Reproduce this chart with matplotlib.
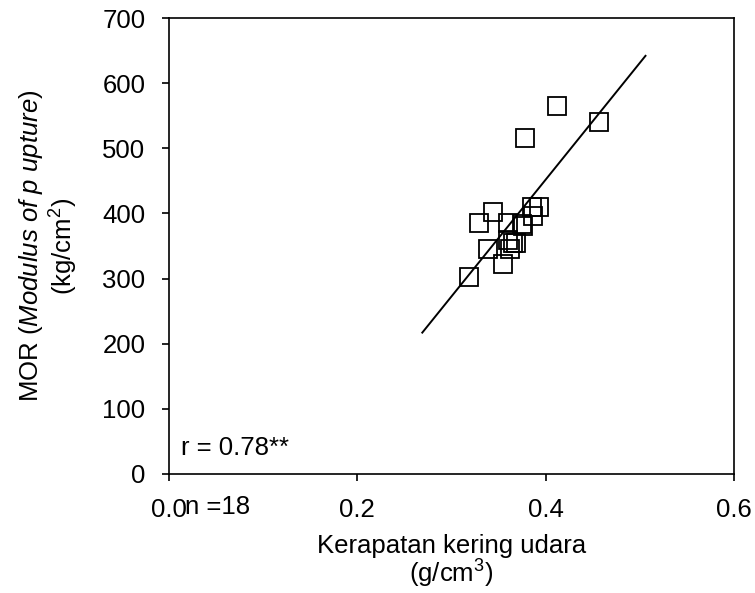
import numpy as np
import matplotlib
matplotlib.use('Agg')
import matplotlib.pyplot as plt

# density (g/cm3) and MOR (kg/cm2)
density = [0.412, 0.378, 0.457, 0.344, 0.329, 0.360, 0.339, 0.319, 0.355,
           0.385, 0.393, 0.387, 0.376, 0.360, 0.365, 0.368, 0.362, 0.375]
mor = [565, 516, 541, 402, 386, 386, 345, 303, 322,
       410, 410, 396, 381, 359, 354, 355, 346, 384]

# regression line
fit_x = np.array([0.269, 0.506])
slope = 1793.0
intercept = -265.3

xticks = [0.0, 0.2, 0.4, 0.6]
xticklabels = ['0.0', '0.2', '0.4', '0.6']
yticks = [0, 100, 200, 300, 400, 500, 600, 700]

plt.rcParams['font.family'] = 'Liberation Sans'
plt.rcParams['mathtext.fontset'] = 'custom'
plt.rcParams['mathtext.rm'] = 'Liberation Sans'
plt.rcParams['mathtext.it'] = 'Liberation Sans:italic'
plt.rcParams['font.size'] = 18.5

fig = plt.figure(figsize=(7.55, 5.93), dpi=100)
ax = fig.add_axes([0.2238, 0.2007, 0.7484, 0.7689])

ax.plot(density, mor, linestyle='none', marker='s', markersize=13.5,
        markerfacecolor='none', markeredgecolor='black', markeredgewidth=1.3)
ax.plot(fit_x, slope*fit_x + intercept, color='black', linewidth=1.4)

ax.set_xlim(0, 0.6)
ax.set_ylim(0, 700)
ax.set_xticks(xticks)
ax.set_xticklabels(xticklabels)
ax.set_yticks(yticks)
ax.tick_params(direction='out', length=5, width=1.2, pad=12)
for s in ax.spines.values():
    s.set_linewidth(1.2)

ax.text(0.013, 29, 'r = 0.78**')
ax.text(0.017, -51, 'n =18', va='center', clip_on=False)

ax.set_xlabel('Kerapatan kering udara\n(g/cm$^3$)', labelpad=9, linespacing=1.0)
ax.set_ylabel('MOR ($\\it{Modulus\\ of\\ p\\ upture}$)\n(kg/cm$^2$)', labelpad=16,
              linespacing=1.1)

plt.savefig('out.png', dpi=100)
